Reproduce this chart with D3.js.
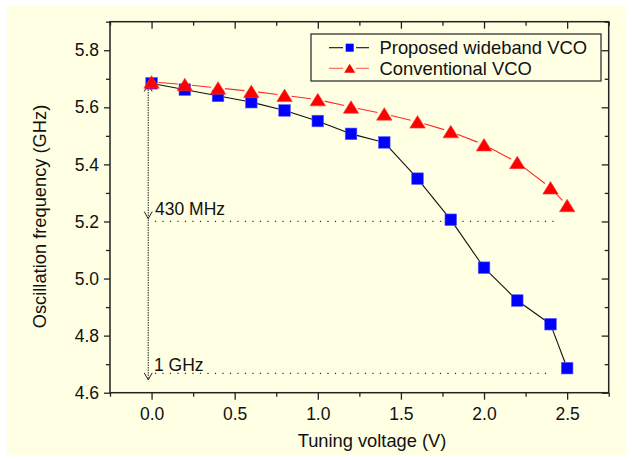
<!DOCTYPE html>
<html>
<head>
<meta charset="utf-8">
<script src="https://cdn.jsdelivr.net/npm/d3@7"></script>
<style>
  html, body { margin: 0; padding: 0; background: #ffffff; }
  svg { display: block; }
  text { font-family: Arial, "Liberation Sans", Helvetica, sans-serif; fill: #111; }
</style>
</head>
<body>
<svg id="chart" width="632" height="460"></svg>
<script>
// Tuning voltage (V)
const voltage = [0.0, 0.2, 0.4, 0.6, 0.8, 1.0, 1.2, 1.4, 1.6, 1.8, 2.0, 2.2, 2.4, 2.5];
// Oscillation frequency (GHz)
const proposedVCO = [5.684, 5.662, 5.640, 5.618, 5.589, 5.552, 5.507, 5.477, 5.350, 5.206, 5.038, 4.923, 4.840, 4.686];
const conventionalVCO = [5.689, 5.680, 5.668, 5.656, 5.642, 5.627, 5.601, 5.577, 5.549, 5.515, 5.469, 5.407, 5.318, 5.256];

const seriesNames = ["Proposed wideband VCO", "Conventional VCO"];
const xTicks = [0.0, 0.5, 1.0, 1.5, 2.0, 2.5];
const xMinorTicks = [-0.25, 0.25, 0.75, 1.25, 1.75, 2.25, 2.75];
const yTicks = [4.6, 4.8, 5.0, 5.2, 5.4, 5.6, 5.8];
const yMinorTicks = [4.7, 4.9, 5.1, 5.3, 5.5, 5.7, 5.9];

// Tuning-range annotation
const rangeTop = 5.68;
const rangeMarks = [5.2, 4.668];
const rangeLabels = ["430 MHz", "1 GHz"];

const svg = d3.select("#chart");

svg.append("rect")
  .attr("x", 7).attr("y", 6).attr("width", 618).attr("height", 449)
  .attr("fill", "#ffffe3");

const plotL = 110, plotR = 608.7, plotT = 21.7, plotB = 392.7;
const x = d3.scaleLinear().domain([-0.25, 2.75]).range([plotL, plotR]);
const y = d3.scaleLinear().domain([4.6, 5.9]).range([plotB, plotT]);

const fmt = d3.format(".1f");
const axisColor = "#222";

function styleAxis(g) {
  g.select(".domain").remove();
  g.selectAll(".tick line").attr("stroke", axisColor).attr("stroke-width", 1.3);
  g.selectAll(".tick text").style("font-size", "17.5px").attr("fill", "#111");
}

// bottom axis
svg.append("g").attr("transform", `translate(0,${plotB})`)
  .call(d3.axisBottom(x).tickValues(xTicks).tickFormat(fmt).tickSize(7).tickPadding(8))
  .call(styleAxis);
svg.append("g").attr("transform", `translate(0,${plotB})`)
  .call(d3.axisBottom(x).tickValues(xMinorTicks).tickFormat("").tickSize(4))
  .call(styleAxis);
// top axis (mirrored, inward)
svg.append("g").attr("transform", `translate(0,${plotT})`)
  .call(d3.axisTop(x).tickValues(xTicks).tickFormat("").tickSize(-7))
  .call(styleAxis);
svg.append("g").attr("transform", `translate(0,${plotT})`)
  .call(d3.axisTop(x).tickValues(xMinorTicks).tickFormat("").tickSize(-4))
  .call(styleAxis);
// left axis
svg.append("g").attr("transform", `translate(${plotL},0)`)
  .call(d3.axisLeft(y).tickValues(yTicks).tickFormat(fmt).tickSize(6).tickPadding(5))
  .call(styleAxis);
svg.append("g").attr("transform", `translate(${plotL},0)`)
  .call(d3.axisLeft(y).tickValues(yMinorTicks).tickFormat("").tickSize(4))
  .call(styleAxis);
// right axis (mirrored, inward)
svg.append("g").attr("transform", `translate(${plotR},0)`)
  .call(d3.axisRight(y).tickValues(yTicks).tickFormat("").tickSize(-7))
  .call(styleAxis);
svg.append("g").attr("transform", `translate(${plotR},0)`)
  .call(d3.axisRight(y).tickValues(yMinorTicks).tickFormat("").tickSize(-4))
  .call(styleAxis);

// frame
svg.append("rect")
  .attr("x", plotL).attr("y", plotT).attr("width", plotR - plotL).attr("height", plotB - plotT)
  .attr("fill", "none").attr("stroke", axisColor).attr("stroke-width", 1.5);

// axis titles
svg.append("text")
  .attr("x", 372).attr("y", 447).attr("text-anchor", "middle")
  .style("font-size", "18.3px").text("Tuning voltage (V)");
svg.append("text")
  .attr("transform", "translate(46,216.5) rotate(-90)").attr("text-anchor", "middle")
  .style("font-size", "18.3px").text("Oscillation frequency (GHz)");

// tuning range annotation
const ax = x(-0.02);
svg.append("line")
  .attr("x1", ax).attr("x2", ax).attr("y1", y(rangeTop)).attr("y2", y(4.645))
  .attr("stroke", "#222").attr("stroke-width", 1).attr("stroke-dasharray", "1.5,1");
function arrowHead(yv, dir) {
  const ty = y(yv);
  svg.append("polyline")
    .attr("points", `${ax - 4},${ty - dir * 7} ${ax},${ty} ${ax + 4},${ty - dir * 7}`)
    .attr("fill", "none").attr("stroke", "#222").attr("stroke-width", 1);
}
arrowHead(rangeTop, -1);
arrowHead(5.21, 1);
arrowHead(4.645, 1);

rangeMarks.forEach((v, i) => {
  svg.append("line")
    .attr("x1", x(0.02)).attr("x2", x(i === 0 ? 2.43 : 2.41))
    .attr("y1", y(v)).attr("y2", y(v))
    .attr("stroke", "#333").attr("stroke-width", 1.2).attr("stroke-dasharray", "1.2,6.3");
});
svg.append("text").attr("x", 155).attr("y", y(5.2) - 6.5)
  .style("font-size", "17.5px").text(rangeLabels[0]);
svg.append("text").attr("x", 154).attr("y", y(4.668) - 2.5)
  .style("font-size", "17.5px").text(rangeLabels[1]);

// series lines with small gaps around markers
function drawGappedLine(vals, color, gap) {
  for (let i = 0; i < vals.length - 1; i++) {
    const x1 = x(voltage[i]), y1 = y(vals[i]);
    const x2 = x(voltage[i + 1]), y2 = y(vals[i + 1]);
    const len = Math.hypot(x2 - x1, y2 - y1);
    if (len <= 2 * gap) continue;
    const ux = (x2 - x1) / len, uy = (y2 - y1) / len;
    svg.append("line")
      .attr("x1", x1 + ux * gap).attr("y1", y1 + uy * gap)
      .attr("x2", x2 - ux * gap).attr("y2", y2 - uy * gap)
      .attr("stroke", color).attr("stroke-width", 1.1);
  }
}
const triPath = (w, h) => `M0,${-h / 2}L${w / 2},${h / 2}L${-w / 2},${h / 2}Z`;

drawGappedLine(proposedVCO, "#111", 6);
svg.append("g").selectAll("rect").data(proposedVCO).join("rect")
  .attr("x", (d, i) => x(voltage[i]) - 5.8).attr("y", d => y(d) - 5.8)
  .attr("width", 11.6).attr("height", 11.6)
  .attr("fill", "#0000ff").attr("stroke", "#5a5aff").attr("stroke-width", 0.6);

drawGappedLine(conventionalVCO, "#ff2a2a", 7);
svg.append("g").selectAll("path").data(conventionalVCO).join("path")
  .attr("transform", (d, i) => `translate(${x(voltage[i])},${y(d)})`)
  .attr("d", triPath(15.5, 12.5))
  .attr("fill", "#ff0000").attr("stroke", "#ff3a3a").attr("stroke-width", 0.6);

// legend
const lg = svg.append("g");
lg.append("rect").attr("x", 311).attr("y", 34).attr("width", 290).attr("height", 47)
  .attr("fill", "none").attr("stroke", "#333").attr("stroke-width", 1.3);
const legendRows = [47.7, 68.3];
[[329, 343], [356, 369]].forEach(([a, b]) => {
  lg.append("line").attr("x1", a).attr("x2", b).attr("y1", legendRows[0]).attr("y2", legendRows[0])
    .attr("stroke", "#111").attr("stroke-width", 1.1);
  lg.append("line").attr("x1", a).attr("x2", b).attr("y1", legendRows[1]).attr("y2", legendRows[1])
    .attr("stroke", "#ff5a5a").attr("stroke-width", 1.1);
});
lg.append("rect").attr("x", 349.7 - 4).attr("y", legendRows[0] - 4).attr("width", 8).attr("height", 8)
  .attr("fill", "#0000ff");
lg.append("path").attr("transform", `translate(349.7,${legendRows[1]})`)
  .attr("d", triPath(11, 9)).attr("fill", "#ff0000");
seriesNames.forEach((name, i) => {
  lg.append("text").attr("x", 379.5).attr("y", legendRows[i] + 6.5)
    .style("font-size", "18.4px").text(name);
});
</script>
</body>
</html>
